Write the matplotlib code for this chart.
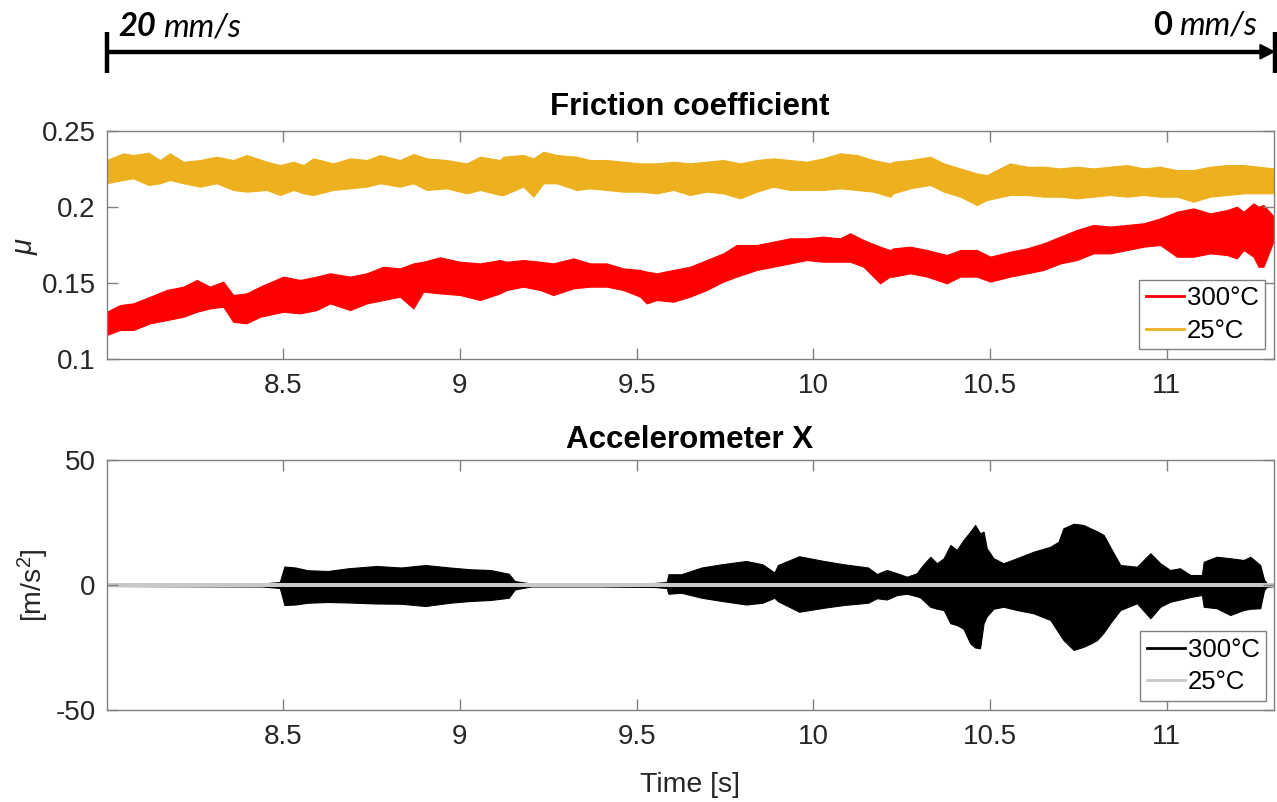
import matplotlib
matplotlib.use("Agg")
import matplotlib.pyplot as plt
from matplotlib.lines import Line2D
from matplotlib.patches import Polygon

plt.rcParams['font.family'] = ['Liberation Sans', 'DejaVu Sans']
plt.rcParams['mathtext.fontset'] = 'custom'
plt.rcParams['mathtext.rm'] = 'Liberation Sans'
plt.rcParams['mathtext.it'] = 'Liberation Sans:italic'

# ---------------- data ----------------
# Friction coefficient, 25 °C band (time, upper edge, lower edge)
fric25_t = [8.000, 8.047, 8.075, 8.118, 8.151, 8.179, 8.217, 8.264, 8.311, 8.358, 8.396,
            8.453, 8.491, 8.528, 8.557, 8.585, 8.641, 8.689, 8.736, 8.774, 8.830, 8.868,
            8.906, 8.962, 9.019, 9.057, 9.113,
            9.123, 9.179, 9.208, 9.236, 9.274, 9.330, 9.368, 9.415, 9.462, 9.510, 9.557,
            9.604, 9.651, 9.698, 9.745, 9.793, 9.840, 9.887, 9.934, 9.981, 10.028, 10.076,
            10.123, 10.170, 10.217,
            10.227, 10.274, 10.331, 10.369, 10.416, 10.463, 10.491, 10.557, 10.605, 10.652,
            10.699, 10.746, 10.793, 10.840, 10.888, 10.935, 10.982, 11.029, 11.076, 11.123,
            11.171, 11.218, 11.260, 11.304]
fric25_hi = [0.2307, 0.2351, 0.2340, 0.2355, 0.2307, 0.2351, 0.2296, 0.2307, 0.2329, 0.2307, 0.2340,
             0.2296, 0.2274, 0.2296, 0.2274, 0.2318, 0.2285, 0.2318, 0.2307, 0.2340, 0.2307, 0.2347,
             0.2318, 0.2307, 0.2285, 0.2329, 0.2307,
             0.2329, 0.2340, 0.2318, 0.2362, 0.2340, 0.2329, 0.2307, 0.2307, 0.2296, 0.2285, 0.2285,
             0.2296, 0.2285, 0.2296, 0.2307, 0.2285, 0.2307, 0.2318, 0.2307, 0.2296, 0.2318, 0.2351,
             0.2340, 0.2307, 0.2285,
             0.2296, 0.2307, 0.2329, 0.2285, 0.2252, 0.2219, 0.2208, 0.2285, 0.2263, 0.2263,
             0.2252, 0.2263, 0.2252, 0.2263, 0.2274, 0.2252, 0.2263, 0.2241, 0.2241, 0.2263,
             0.2274, 0.2274, 0.2263, 0.2252]
fric25_lo = [0.2154, 0.2176, 0.2187, 0.2143, 0.2154, 0.2176, 0.2154, 0.2132, 0.2154, 0.2110, 0.2099,
             0.2110, 0.2077, 0.2110, 0.2088, 0.2077, 0.2110, 0.2121, 0.2132, 0.2154, 0.2132, 0.2154,
             0.2110, 0.2121, 0.2088, 0.2110, 0.2077,
             0.2077, 0.2132, 0.2066, 0.2154, 0.2154, 0.2110, 0.2121, 0.2110, 0.2099, 0.2099, 0.2088,
             0.2110, 0.2077, 0.2099, 0.2088, 0.2055, 0.2099, 0.2132, 0.2110, 0.2110, 0.2110, 0.2121,
             0.2110, 0.2099, 0.2066,
             0.2088, 0.2121, 0.2143, 0.2099, 0.2066, 0.2011, 0.2044, 0.2077, 0.2077, 0.2066,
             0.2066, 0.2055, 0.2066, 0.2077, 0.2066, 0.2077, 0.2066, 0.2066, 0.2033, 0.2066,
             0.2077, 0.2088, 0.2088, 0.2088]

# Friction coefficient, 300 °C band
fric300_t = [8.000, 8.038, 8.075, 8.123, 8.170, 8.217, 8.255, 8.292, 8.330, 8.358, 8.396,
             8.434, 8.500, 8.547, 8.594, 8.632, 8.689, 8.736, 8.783, 8.830, 8.868, 8.896,
             8.943, 9.000, 9.057, 9.113,
             9.132, 9.179, 9.227, 9.264, 9.321, 9.368, 9.415, 9.462, 9.510, 9.528, 9.557,
             9.604, 9.651, 9.698, 9.745, 9.783, 9.840, 9.887, 9.934, 9.981, 10.028, 10.076,
             10.104, 10.142, 10.189, 10.217,
             10.227, 10.274, 10.322, 10.378, 10.416, 10.463, 10.501, 10.557, 10.605, 10.652,
             10.699, 10.746, 10.793, 10.840, 10.888, 10.935, 10.982, 11.029, 11.076, 11.123,
             11.171, 11.199, 11.218, 11.246, 11.260, 11.274, 11.304]
fric300_hi = [0.1309, 0.1353, 0.1364, 0.1408, 0.1452, 0.1474, 0.1518, 0.1474, 0.1507, 0.1419, 0.1430,
              0.1474, 0.1540, 0.1518, 0.1540, 0.1562, 0.1540, 0.1562, 0.1605, 0.1594, 0.1627, 0.1638,
              0.1667, 0.1638, 0.1627, 0.1649,
              0.1638, 0.1649, 0.1638, 0.1627, 0.1660, 0.1627, 0.1627, 0.1594, 0.1584, 0.1573, 0.1562,
              0.1584, 0.1605, 0.1649, 0.1693, 0.1748, 0.1748, 0.1770, 0.1792, 0.1792, 0.1803, 0.1792,
              0.1825, 0.1781, 0.1737, 0.1715,
              0.1726, 0.1737, 0.1715, 0.1682, 0.1715, 0.1715, 0.1671, 0.1704, 0.1726, 0.1759,
              0.1803, 0.1847, 0.1880, 0.1869, 0.1880, 0.1891, 0.1923, 0.1967, 0.1989, 0.1956,
              0.1978, 0.2000, 0.1967, 0.2022, 0.2000, 0.2011, 0.1934]
fric300_lo = [0.1156, 0.1189, 0.1189, 0.1233, 0.1254, 0.1276, 0.1309, 0.1331, 0.1342, 0.1243, 0.1233,
              0.1276, 0.1309, 0.1298, 0.1320, 0.1364, 0.1320, 0.1364, 0.1386, 0.1408, 0.1331, 0.1441,
              0.1430, 0.1419, 0.1386, 0.1430,
              0.1452, 0.1474, 0.1452, 0.1419, 0.1463, 0.1474, 0.1474, 0.1452, 0.1408, 0.1364, 0.1386,
              0.1375, 0.1408, 0.1452, 0.1507, 0.1540, 0.1584, 0.1605, 0.1627, 0.1649, 0.1638, 0.1638,
              0.1638, 0.1605, 0.1496, 0.1540,
              0.1540, 0.1562, 0.1540, 0.1496, 0.1540, 0.1540, 0.1507, 0.1540, 0.1562, 0.1584,
              0.1627, 0.1649, 0.1693, 0.1693, 0.1715, 0.1737, 0.1748, 0.1671, 0.1671, 0.1693,
              0.1682, 0.1660, 0.1715, 0.1671, 0.1605, 0.1605, 0.1781]

# Accelerometer X, 300 °C envelope
acc300_t = [8.0, 8.44, 8.49, 8.503, 8.534, 8.569, 8.626, 8.684, 8.764, 8.833, 8.902, 8.971,
            9.029, 9.086, 9.138, 9.155, 9.20, 9.4, 9.55, 9.585, 9.59, 9.626, 9.684, 9.741,
            9.81, 9.856, 9.89, 9.90, 9.96, 10.03, 10.086, 10.155,
            10.180, 10.208, 10.237, 10.265, 10.293, 10.303, 10.331, 10.350, 10.369, 10.388,
            10.406, 10.425, 10.444, 10.458, 10.472, 10.482, 10.491, 10.510, 10.538, 10.576,
            10.623, 10.671, 10.694, 10.708, 10.737, 10.765, 10.784, 10.803, 10.822, 10.840,
            10.869, 10.916, 10.954, 10.982, 11.010, 11.038, 11.067, 11.100, 11.105, 11.142,
            11.180, 11.218, 11.237, 11.265, 11.276, 11.284, 11.304]
acc300_hi = [0.4, 0.6, 1.2, 7.4, 7.0, 5.9, 5.6, 6.7, 7.6, 7.0, 8.0, 7.0,
             6.3, 6.0, 4.5, 1.6, 0.6, 0.6, 0.8, 1.2, 4.3, 4.3, 7.0, 8.3,
             9.6, 8.3, 5.0, 8.0, 11.5, 9.6, 8.3, 7.0,
             4.4, 6.0, 4.7, 3.3, 4.7, 6.7, 11.3, 8.7, 10.7, 16.0,
             14.0, 18.0, 21.3, 24.0, 20.7, 21.3, 14.7, 10.7, 8.7, 10.7,
             13.3, 15.3, 17.3, 22.7, 24.5, 24.0, 22.7, 21.5, 20.0, 15.3,
             8.0, 7.3, 12.7, 8.7, 6.0, 6.7, 4.0, 4.0, 9.3, 11.3,
             10.7, 10.0, 11.3, 8.0, 2.0, 0.7, 0.5]
acc300_lo = [-0.4, -0.6, -1.2, -8.0, -7.8, -7.1, -6.8, -7.0, -7.4, -7.5, -8.4, -7.1,
             -6.4, -6.0, -5.1, -1.8, -0.6, -0.6, -0.8, -1.2, -3.5, -3.1, -5.1, -6.4,
             -7.8, -7.1, -5.1, -6.5, -10.7, -9.1, -8.0, -7.1,
             -5.3, -5.8, -4.0, -3.5, -4.5, -5.0, -8.7, -9.5, -10.0, -15.3,
             -16.0, -17.5, -23.3, -25.0, -25.3, -15.3, -12.5, -9.5, -8.7, -10.0,
             -11.3, -14.0, -19.0, -22.0, -26.0, -24.7, -23.5, -22.0, -19.0, -15.3,
             -10.0, -7.3, -13.3, -8.7, -6.7, -5.8, -4.8, -4.0, -8.7, -9.3,
             -12.0, -10.0, -9.5, -9.3, -2.0, -0.7, -0.5]

# Accelerometer X, 25 °C (thin band around zero)
acc25_t = [8.0, 11.304]
acc25_hi = [0.8, 0.8]
acc25_lo = [-0.8, -0.8]

series_labels = ['300°C', '25°C']
xticks = [8.5, 9, 9.5, 10, 10.5, 11]
xticklabels = ['8.5', '9', '9.5', '10', '10.5', '11']
fric_yticks = [0.1, 0.15, 0.2, 0.25]
fric_yticklabels = ['0.1', '0.15', '0.2', '0.25']
acc_yticks = [-50, 0, 50]
acc_yticklabels = ['-50', '0', '50']
xlim = (8.0, 11.304)

# ---------------- figure ----------------
W, H = 1277, 802
fig = plt.figure(figsize=(W / 100, H / 100), dpi=100)

def fx(px):
    return px / W

def fy(py):
    return 1 - py / H

axL, axR = 106.7, 1274.0
ax1 = fig.add_axes([fx(axL), fy(358.7), fx(axR - axL), (358.7 - 130.7) / H])
ax2 = fig.add_axes([fx(axL), fy(710.0), fx(axR - axL), (710.0 - 460.0) / H])

RED = '#FF0000'
ORANGE = '#EDB120'
GRAY = '#C8C8C8'
AXC = '#808080'
TXT = '#262626'

ax1.fill_between(fric300_t, fric300_lo, fric300_hi, color=RED, lw=0.8, edgecolor=RED)
ax1.fill_between(fric25_t, fric25_lo, fric25_hi, color=ORANGE, lw=0.8, edgecolor=ORANGE)
ax1.set_xlim(*xlim)
ax1.set_ylim(0.1, 0.25)
ax1.set_yticks(fric_yticks)
ax1.set_yticklabels(fric_yticklabels)

ax2.fill_between(acc300_t, acc300_lo, acc300_hi, color='black', lw=0.8, edgecolor='black')
ax2.fill_between(acc25_t, acc25_lo, acc25_hi, color=GRAY, lw=0)
ax2.set_xlim(*xlim)
ax2.set_ylim(-50, 50)
ax2.set_yticks(acc_yticks)
ax2.set_yticklabels(acc_yticklabels)

for ax in (ax1, ax2):
    ax.set_xticks(xticks)
    ax.set_xticklabels(xticklabels)
    for s in ax.spines.values():
        s.set_color(AXC)
        s.set_linewidth(1.0)
    ax.tick_params(direction='in', length=8, width=1.0, color=AXC,
                   top=True, right=True, labelsize=20, labelcolor=TXT)
    ax.tick_params(axis='x', pad=10)
    ax.tick_params(axis='y', pad=8)

# legends
h1 = [Line2D([], [], color=RED, lw=2), Line2D([], [], color=ORANGE, lw=2)]
h2 = [Line2D([], [], color='black', lw=2), Line2D([], [], color=GRAY, lw=2)]
legkw = dict(loc='lower right', fontsize=18.5, frameon=True, fancybox=False,
             edgecolor=AXC, framealpha=1, borderpad=0.25, labelspacing=0.33,
             handlelength=1.5, handletextpad=0.1, borderaxespad=0)
lg1 = ax1.legend(h1, series_labels, bbox_to_anchor=((1265 - axL) / (axR - axL), 9.4 / 228.0), **legkw)
lg2 = ax2.legend(h2, series_labels, bbox_to_anchor=((1266 - axL) / (axR - axL), 9.3 / 250.0), **legkw)
for lg in (lg1, lg2):
    lg.get_frame().set_linewidth(1.0)
    for t in lg.get_texts():
        t.set_color('black')

# titles and labels
fig.text(fx(690), fy(115), 'Friction coefficient', ha='center', va='baseline',
         fontsize=22.5, fontweight='bold', color='black')
fig.text(fx(690), fy(448.3), 'Accelerometer X', ha='center', va='baseline',
         fontsize=22.5, fontweight='bold', color='black')
fig.text(fx(690), fy(791.7), 'Time [s]', ha='center', va='baseline',
         fontsize=20.5, color=TXT)
fig.text(fx(26), fy(246), r'$\mu$', ha='center', va='center', rotation=90,
         fontsize=21, color=TXT, family='DejaVu Serif')
fig.text(fx(33), fy(585), r'[m/s$^\mathregular{2}$]', ha='center', va='center', rotation=90,
         fontsize=20.5, color=TXT)

# speed arrow at the top
ay = fy(51.7)
fig.add_artist(Line2D([fx(106.7), fx(1262)], [ay, ay], color='black', lw=3.2,
                      transform=fig.transFigure, solid_capstyle='butt'))
fig.add_artist(Line2D([fx(106.7), fx(106.7)], [fy(32), fy(73)], color='black', lw=3.2,
                      transform=fig.transFigure, solid_capstyle='butt'))
fig.add_artist(Line2D([fx(1275), fx(1275)], [fy(32), fy(73)], color='black', lw=3.2,
                      transform=fig.transFigure, solid_capstyle='butt'))
fig.add_artist(Polygon([[fx(1274), ay], [fx(1260), fy(44.5)], [fx(1260), fy(58.9)]],
                       closed=True, color='black', transform=fig.transFigure))

fig.canvas.draw()
r = fig.canvas.get_renderer()
afont = ['Lato', 'DejaVu Sans']
AFS = 23.5
t1 = fig.text(fx(118), fy(36), '20', ha='left', va='baseline', fontsize=AFS,
              fontweight='bold', fontstyle='italic', family=afont)
bb = t1.get_window_extent(r)
fig.text(bb.x1 / W + fx(7), fy(36), 'mm/s', ha='left', va='baseline', fontsize=AFS,
         fontstyle='italic', family=afont)
t3 = fig.text(fx(1257), fy(35), 'mm/s', ha='right', va='baseline', fontsize=AFS,
              fontstyle='italic', family=afont)
bb3 = t3.get_window_extent(r)
fig.text(bb3.x0 / W - fx(7), fy(35), '0', ha='right', va='baseline', fontsize=AFS,
         fontweight='bold', family=afont)

fig.savefig('out.png', dpi=100)
